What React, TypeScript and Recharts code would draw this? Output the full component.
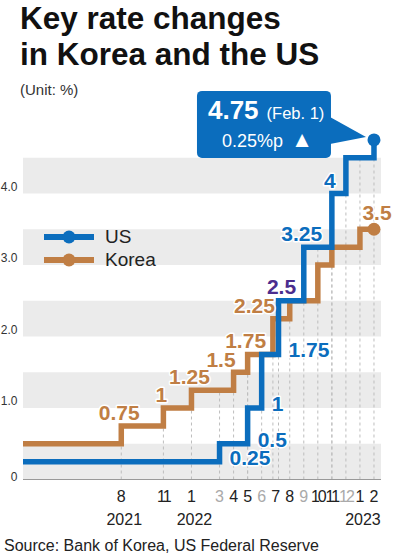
import { LineChart, Line, XAxis, YAxis, ReferenceArea, ReferenceLine, ReferenceDot, Legend } from "recharts"

const FONT = '"Liberation Sans", Arial, Helvetica, sans-serif'
const US_COLOR = "#0b6dbd"
const KR_COLOR = "#c07e44"
const BOTH_COLOR = "#4b2d8e"

// policy rate decisions: effective date + new rate (%)
const usStart = 0.25
const usDates = ["2022-03-16", "2022-05-04", "2022-06-15", "2022-07-27", "2022-09-21", "2022-11-02", "2022-12-14", "2023-02-01"]
const usRates = [0.5, 1, 1.75, 2.5, 3.25, 4, 4.5, 4.75]

const krStart = 0.5
const krDates = ["2021-08-26", "2021-11-25", "2022-01-14", "2022-04-14", "2022-05-26", "2022-07-13", "2022-08-25", "2022-10-12", "2022-11-24", "2023-01-13"]
const krRates = [0.75, 1, 1.25, 1.5, 1.75, 2.25, 2.5, 3, 3.25, 3.5]

const startMonth = "2021-01"
const endMonth = "2023-02"
const yTicks = [0, 1, 2, 3, 4]
const seriesNames = ["US", "Korea"]
const monthNames = ["Jan.", "Feb.", "Mar.", "Apr.", "May", "Jun.", "Jul.", "Aug.", "Sep.", "Oct.", "Nov.", "Dec."]

// where each level's value label goes (index 0 = starting level); "both" = level reached by both
const usLabelPlace = ["right", "right", "right", "right", "both", "above", "above", null, null]
const krLabelPlace = [null, "above", "above", "above", "left", "above", "left", null, null, null, "end"]

const monthIndex = (d: string) => {
  const [y, m] = d.split("-").map(Number)
  return (y - 2021) * 12 + (m - 1)
}
const monthX = (d: string) => monthIndex(d) + 0.5

// two steps in the same month that would overlap get pulled apart a little
const eventX = (dates: string[], rates: number[], start: number, i: number, oDates: string[], oRates: number[], oStart: number) => {
  const d = dates[i]
  const j = oDates.findIndex((o) => monthIndex(o) === monthIndex(d))
  if (j < 0) return monthX(d)
  const a = i ? rates[i - 1] : start
  const b = j ? oRates[j - 1] : oStart
  const lo = Math.min(a, rates[i]), hi = Math.max(a, rates[i])
  const olo = Math.min(b, oRates[j]), ohi = Math.max(b, oRates[j])
  if (Math.min(hi, ohi) - Math.max(lo, olo) <= 0) return monthX(d)
  return monthX(d) + (d < oDates[j] ? -0.2 : 0.2)
}

const usPoints = [
  { x: monthX(startMonth), y: usStart },
  ...usDates.map((d, i) => ({ x: eventX(usDates, usRates, usStart, i, krDates, krRates, krStart), y: usRates[i] })),
]
const krPoints = [
  { x: monthX(startMonth), y: krStart },
  ...krDates.map((d, i) => ({ x: eventX(krDates, krRates, krStart, i, usDates, usRates, usStart), y: krRates[i] })),
  { x: monthX(endMonth), y: krRates[krRates.length - 1] },
]

const levelBefore = (pts: { x: number; y: number }[], x: number) => {
  let v = pts[0].y
  pts.forEach((p) => {
    if (p.x < x) v = p.y
  })
  return v
}

const dashLines = [...usPoints.slice(1), ...krPoints.slice(1, krPoints.length - 1)].map((p) => ({
  x: p.x,
  top: Math.max(levelBefore(usPoints, p.x), levelBefore(krPoints, p.x)),
}))

const allDates = [...usDates, ...krDates]
const tickValues = Array.from(new Set(allDates.map(monthX))).sort((a, b) => a - b)
const lastTick = tickValues[tickValues.length - 1]

type Lab = { x: number; y: number; text: string; color: string; place: string }
const labels: Lab[] = []
;[usStart, ...usRates].forEach((v, k) => {
  const place = usLabelPlace[k]
  if (!place) return
  const x = place === "right" ? usPoints[k + 1].x : usPoints[k].x
  labels.push({ x, y: v, text: String(v), color: place === "both" ? BOTH_COLOR : US_COLOR, place })
})
;[krStart, ...krRates].forEach((v, k) => {
  const place = krLabelPlace[k]
  if (!place) return
  const x = place === "end" ? krPoints[krPoints.length - 1].x : krPoints[k].x
  labels.push({ x, y: v, text: String(v), color: KR_COLOR, place })
})

const labelShape = (lab: Lab) => (p: any) => {
  let dx = -2, dy = -6, anchor: "start" | "middle" | "end" = "middle"
  if (lab.place === "both") { dx = 3; dy = -7 }
  if (lab.place === "right") { dx = 10; dy = 3; anchor = "start" }
  if (lab.place === "left") { dx = 2; dy = -5.5; anchor = "end" }
  if (lab.place === "end") { dx = 3; dy = -9 }
  return (
    <text x={p.cx + dx} y={p.cy + dy} textAnchor={anchor} fontSize={21} fontWeight="bold" fill={lab.color}
      stroke="#fff" strokeWidth={3} paintOrder="stroke" strokeLinejoin="round">
      {lab.text}
    </text>
  )
}

const MonthTick = (props: any) => {
  const { x, y, payload } = props
  const v = payload.value
  const d = allDates.find((s) => monthX(s) === v) as string
  const [yr, m] = d.split("-").map(Number)
  const hasKorea = krDates.some((s) => monthX(s) === v)
  const firstOfYear = tickValues.find((t) => Math.floor((t - 0.5) / 12) === Math.floor((v - 0.5) / 12)) === v
  const label = String(m)
  return (
    <g>
      <text x={x} y={y + 22.5} textAnchor="middle" fontSize={16} fill={hasKorea || v === lastTick ? "#222" : "#aaa"}
        letterSpacing={label.length > 1 ? -2 : 0}>
        {label}
      </text>
      {firstOfYear && (
        <text x={x + 3} y={y + 45.5} textAnchor="middle" fontSize={16} fill="#222">
          {yr}
        </text>
      )}
    </g>
  )
}

const RateTick = (props: any) => {
  const { x, y, payload } = props
  const v = payload.value
  return (
    <text x={x - 5.5} y={y + (v === 0 ? 1 : -3)} textAnchor="end" fontSize={12} fill="#333">
      {v === 0 ? "0" : v.toFixed(1)}
    </text>
  )
}

const usLast = usRates[usRates.length - 1]
const usChange = +(usLast - usRates[usRates.length - 2]).toFixed(2)
const usLastDate = usDates[usDates.length - 1]
const calloutDate = `${monthNames[Number(usLastDate.slice(5, 7)) - 1]} ${Number(usLastDate.slice(8))}`

const renderUsDot = (p: any) => {
  const { cx, cy, index } = p
  if (index !== usPoints.length - 1) return <g key={`us-dot-${index}`} />
  return (
    <g key={`us-dot-${index}`}>
      <rect x={cx - 177} y={cy - 49} width={134} height={67} rx={5} fill={US_COLOR} />
      <polygon points={`${cx - 44},${cy - 23} ${cx - 8},${cy - 3} ${cx - 44},${cy + 4}`} fill={US_COLOR} />
      <text x={cx - 166} y={cy - 21} fill="#fff">
        <tspan fontSize={26} fontWeight="bold">{usLast}</tspan>
        <tspan fontSize={16.5} dx={8}>({calloutDate})</tspan>
      </text>
      <text x={cx - 152} y={cy + 7} fill="#fff" fontSize={18}>
        {`${usChange}%p`}
      </text>
      <text x={cx - 72} y={cy + 5} fill="#fff" fontSize={17} textAnchor="middle" fontFamily="DejaVu Sans">
        ▲
      </text>
      <circle cx={cx} cy={cy} r={6.5} fill={US_COLOR} />
    </g>
  )
}

const renderKrDot = (p: any) => {
  const { cx, cy, index } = p
  if (index !== krPoints.length - 1) return <g key={`kr-dot-${index}`} />
  return <circle key={`kr-dot-${index}`} cx={cx} cy={cy} r={6.5} fill={KR_COLOR} />
}

const renderLegend = (props: any) => {
  const items = [...(props.payload || [])].sort((a: any, b: any) => seriesNames.indexOf(a.value) - seriesNames.indexOf(b.value))
  return (
    <div>
      {items.map((it: any) => (
        <div key={it.value} style={{ display: "flex", alignItems: "center", height: 23 }}>
          <svg width={50} height={14}>
            <line x1={0} y1={7} x2={50} y2={7} stroke={it.color} strokeWidth={6} />
            <circle cx={25} cy={7} r={6.5} fill={it.color} />
          </svg>
          <span style={{ marginLeft: 11, fontSize: 19, color: "#222" }}>{it.value}</span>
        </div>
      ))}
    </div>
  )
}

export default function App() {
  return (
    <div style={{ position: "absolute", left: 0, top: 0, width: 394, height: 554, background: "#fff", fontFamily: FONT, overflow: "hidden" }}>
      <div style={{ position: "absolute", left: 20, top: 0, fontSize: 31.5, fontWeight: "bold", lineHeight: "36px", color: "#111", whiteSpace: "nowrap" }}>
        Key rate changes
        <br />
        in Korea and the US
      </div>
      <div style={{ position: "absolute", left: 20, top: 82, fontSize: 15, lineHeight: 1, color: "#333" }}>(Unit: %)</div>
      <div style={{ position: "absolute", left: 0, top: 0 }}>
        <LineChart width={394} height={554} margin={{ top: 122, right: 13, bottom: 24.5, left: 0 }}>
          <XAxis type="number" dataKey="x" domain={[monthX(startMonth), monthX(endMonth) + 0.5]} ticks={tickValues}
            tick={<MonthTick />} tickLine={false} tickSize={0} tickMargin={0} height={50}
            axisLine={{ stroke: "#999", strokeWidth: 1 }} interval={0} allowDataOverflow />
          <YAxis type="number" domain={[0, 5]} ticks={yTicks} tick={<RateTick />} tickLine={false} tickSize={0}
            tickMargin={0} axisLine={false} width={23} interval={0} />
          {yTicks.map((t) => (
            <ReferenceArea key={`band-${t}`} y1={t} y2={t + 0.5} fill="#ebebeb" fillOpacity={1} stroke="none" ifOverflow="visible" />
          ))}
          {dashLines.map((l, i) => (
            <ReferenceLine key={`dash-${i}`} segment={[{ x: l.x, y: 0 }, { x: l.x, y: l.top }]} stroke="#bdbdbd"
              strokeDasharray="3 3" strokeWidth={1} zIndex={150} />
          ))}
          <Legend verticalAlign="middle" layout="horizontal" content={renderLegend}
            wrapperStyle={{ left: 44, top: 225, width: 140, height: 46 }} />
          <Line data={krPoints} dataKey="y" name="Korea" type="stepAfter" stroke={KR_COLOR} strokeWidth={5.5}
            dot={renderKrDot} activeDot={false} isAnimationActive={false} />
          <Line data={usPoints} dataKey="y" name="US" type="stepAfter" stroke={US_COLOR} strokeWidth={5.5}
            dot={renderUsDot} activeDot={false} isAnimationActive={false} />
          {labels.map((lab, i) => (
            <ReferenceDot key={`lab-${i}`} x={lab.x} y={lab.y} r={0} ifOverflow="visible" shape={labelShape(lab)} />
          ))}
        </LineChart>
      </div>
      <div style={{ position: "absolute", left: 4, top: 538, fontSize: 16, lineHeight: 1, color: "#222", whiteSpace: "nowrap" }}>
        Source: Bank of Korea, US Federal Reserve
      </div>
    </div>
  )
}
